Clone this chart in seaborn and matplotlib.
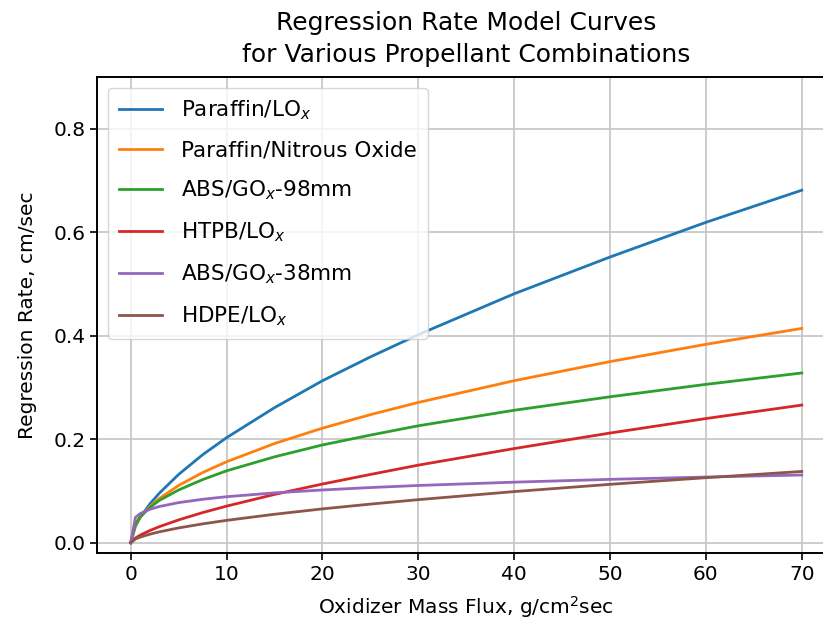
"""
Regression rate model curves for several hybrid propellant combinations.
"""
import matplotlib
matplotlib.use("Agg")
import matplotlib.pyplot as plt
import pandas as pd
import seaborn as sns

# ── Data ─────────────────────────────────────────────────────────
FLUX = [0, 0.5, 1, 2, 3, 5, 7.5, 10, 15, 20, 25, 30, 40, 50, 60, 70]

PARAFFIN_LOX = [0, 0.032, 0.049, 0.075, 0.096, 0.132, 0.170, 0.203, 0.261,
                0.313, 0.359, 0.402, 0.481, 0.552, 0.619, 0.681]
PARAFFIN_N2O = [0, 0.035, 0.0495, 0.070, 0.0857, 0.1107, 0.1356, 0.1565,
                0.1917, 0.2214, 0.2475, 0.2711, 0.3131, 0.350, 0.3834, 0.4141]
ABS_GOX_98 = [0, 0.037, 0.0503, 0.068, 0.082, 0.102, 0.122, 0.139, 0.166,
              0.189, 0.208, 0.226, 0.256, 0.282, 0.306, 0.328]
HTPB_LOX = [0, 0.0092, 0.0148, 0.0237, 0.0312, 0.0442, 0.0583, 0.0708,
            0.0934, 0.1135, 0.132, 0.150, 0.182, 0.212, 0.240, 0.266]
ABS_GOX_38 = [0, 0.0492, 0.0564, 0.0647, 0.0701, 0.0776, 0.084, 0.089,
              0.0964, 0.102, 0.1067, 0.1107, 0.1171, 0.1225, 0.127, 0.1309]
HDPE_LOX = [0, 0.0073, 0.011, 0.0166, 0.0212, 0.0287, 0.0365, 0.0433,
            0.0551, 0.0655, 0.0747, 0.0833, 0.0989, 0.1129, 0.1257, 0.1378]

LABELS = [
    r"Paraffin/LO$_x$",
    "Paraffin/Nitrous Oxide",
    r"ABS/GO$_x$-98mm",
    r"HTPB/LO$_x$",
    r"ABS/GO$_x$-38mm",
    r"HDPE/LO$_x$",
]
SERIES = [PARAFFIN_LOX, PARAFFIN_N2O, ABS_GOX_98, HTPB_LOX, ABS_GOX_38, HDPE_LOX]

FS = 14.5


def main():
    frames = []
    for label, values in zip(LABELS, SERIES):
        frames.append(pd.DataFrame({"flux": FLUX, "rate": values, "prop": label}))
    df = pd.concat(frames, ignore_index=True)

    fig = plt.figure(figsize=(8.23, 6.30), dpi=100)
    ax = fig.add_axes([0.118, 0.122, 0.897, 0.756])

    sns.lineplot(
        data=df, x="flux", y="rate", hue="prop", hue_order=LABELS,
        palette=sns.color_palette("tab10", len(LABELS)),
        sort=False, estimator=None, linewidth=2.0, ax=ax,
    )

    ax.set_ylim(-0.02, 0.9)
    ax.set_xticks(range(0, 71, 10))
    ax.set_yticks([0.0, 0.2, 0.4, 0.6, 0.8])
    ax.grid(True, color="#c4c4c4", linewidth=1.2)
    ax.tick_params(labelsize=FS, length=5, width=1.2)
    for side in ["top", "right", "left", "bottom"]:
        ax.spines[side].set_visible(True)
        ax.spines[side].set_linewidth(1.4)

    ax.set_title("Regression Rate Model Curves\nfor Various Propellant Combinations",
                 fontsize=18, pad=11, linespacing=1.42)
    ax.set_xlabel(r"Oxidizer Mass Flux, g/cm$^2$sec", fontsize=FS, labelpad=7)
    ax.set_ylabel("Regression Rate, cm/sec", fontsize=FS, labelpad=12)

    ax.legend(loc="upper left", fontsize=15.5, title=None, labelspacing=0.85,
              handletextpad=0.9, borderpad=0.5)

    fig.savefig("out.png", dpi=100)


if __name__ == "__main__":
    main()
